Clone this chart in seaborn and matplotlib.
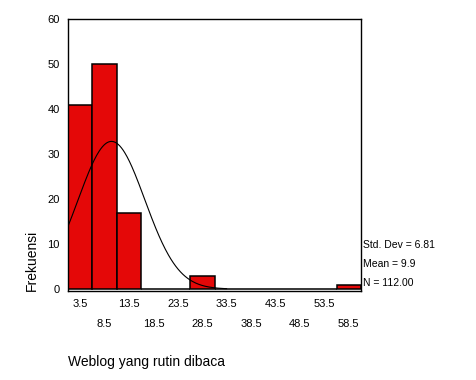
import numpy as np
import pandas as pd
import matplotlib
matplotlib.use('Agg')
import matplotlib.pyplot as plt
import seaborn as sns

# Histogram data (bin centers and frequencies)
bin_centers = [3.5, 8.5, 13.5, 18.5, 23.5, 28.5, 33.5, 38.5, 43.5, 48.5, 53.5, 58.5]
counts = [41, 50, 17, 0, 0, 3, 0, 0, 0, 0, 0, 1]
bin_edges = [1, 6, 11, 16, 21, 26, 31, 36, 41, 46, 51, 56, 61]

# Summary stats shown on the chart
std_dev = 6.81
mean = 9.9
n_total = 112

sns.set_style('white')
plt.rcParams['font.family'] = ['Liberation Sans', 'DejaVu Sans']
plt.rcParams['text.color'] = 'black'
plt.rcParams['axes.labelcolor'] = 'black'
plt.rcParams['xtick.color'] = 'black'
plt.rcParams['ytick.color'] = 'black'

fig = plt.figure(figsize=(4.76, 3.8), dpi=100)
ax = fig.add_axes([0.1429, 0.2342, 0.6155, 0.7158])

df = pd.DataFrame({'value': bin_centers, 'freq': counts})
sns.histplot(data=df, x='value', weights='freq', bins=bin_edges, ax=ax,
             color='#E40808', alpha=1, edgecolor='black', linewidth=1.1)

# Normal curve fitted from mean / sd / N
bin_width = 5
xs = np.linspace(1, 33.5, 200)
ys = n_total * bin_width * np.exp(-0.5 * ((xs - mean) / std_dev) ** 2) / (std_dev * np.sqrt(2 * np.pi))
sns.lineplot(x=xs, y=ys, ax=ax, color='black', linewidth=0.8)

ax.set_xlim(1, 61)
ax.set_ylim(-0.44, 60)

# alternate tick labels on two rows
ax.set_xticks(bin_centers[::2])
ax.set_xticklabels([f'{v}' for v in bin_centers[::2]])
ax.set_xticks(bin_centers[1::2], minor=True)
ax.set_xticklabels([f'{v}' for v in bin_centers[1::2]], minor=True)
ax.tick_params(axis='x', which='major', length=0, pad=6, labelsize=8)
ax.tick_params(axis='x', which='minor', length=0, pad=20, labelsize=8)
ax.set_yticks([0, 10, 20, 30, 40, 50, 60])
ax.tick_params(axis='y', length=0, pad=6, labelsize=8)

for s in ax.spines.values():
    s.set_visible(True)
    s.set_color('black')
    s.set_linewidth(1)

ax.set_xlabel('Weblog yang rutin dibaca', loc='left', fontsize=10, labelpad=19)
ax.set_ylabel('Frekuensi', loc='bottom', fontsize=10, labelpad=6)

ax.text(1.006, 0.168, f'Std. Dev = {std_dev:.2f}', transform=ax.transAxes, fontsize=7.5, va='center')
ax.text(1.006, 0.100, f'Mean = {mean}', transform=ax.transAxes, fontsize=7.5, va='center')
ax.text(1.006, 0.031, f'N = {n_total:.2f}', transform=ax.transAxes, fontsize=7.5, va='center')

plt.savefig('out.png', dpi=100)
